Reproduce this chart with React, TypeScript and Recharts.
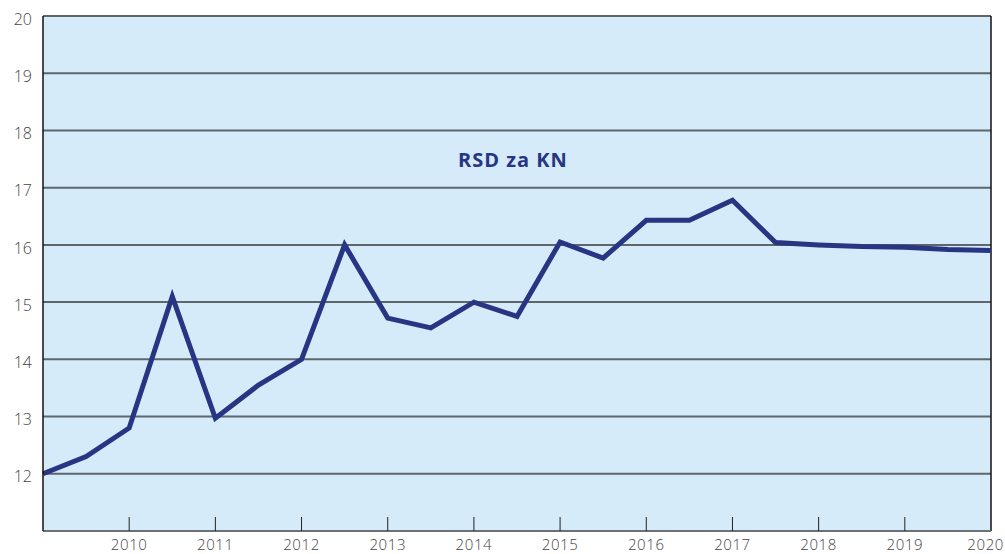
import { LineChart, Line, XAxis, YAxis, CartesianGrid, ReferenceLine } from 'recharts';

// half-year observations, RSD per 1 HRK
const periods = [
  2009, 2009.5, 2010, 2010.5, 2011, 2011.5, 2012, 2012.5, 2013, 2013.5, 2014, 2014.5,
  2015, 2015.5, 2016, 2016.5, 2017, 2017.5, 2018, 2018.5, 2019, 2019.5, 2020
];
const rsdPerKn = [
  12.0, 12.3, 12.8, 15.1, 12.97, 13.55, 14.0, 16.0, 14.72, 14.55, 15.0, 14.75,
  16.05, 15.77, 16.43, 16.43, 16.78, 16.04, 16.0, 15.97, 15.96, 15.92, 15.9
];
const yearTicks = [2010, 2011, 2012, 2013, 2014, 2015, 2016, 2017, 2018, 2019, 2020];
const valueTicks = [12, 13, 14, 15, 16, 17, 18, 19, 20];
const seriesLabel = 'RSD za KN';

const data = periods.map((p, i) => ({ period: p, value: rsdPerKn[i] }));

const FONT = '"Open Sans", Lato, sans-serif';

const YearTick = (props: any) => {
  const { x, y, payload } = props;
  const last = payload.value === yearTicks[yearTicks.length - 1];
  return (
    <g>
      {!last && <line x1={x} x2={x} y1={y} y2={y - 14} stroke="#222" strokeWidth={1} />}
      <text
        x={last ? x + 13 : x}
        y={y + 19}
        textAnchor={last ? 'end' : 'middle'}
        fill="#444"
        fontSize={15}
        letterSpacing={0.6}
        fontFamily={FONT}
        fontWeight={300}
      >
        {payload.value}
      </text>
    </g>
  );
};

export default function App() {
  return (
    <div style={{ position: 'absolute', left: 0, top: 0, width: 1005, height: 554 }}>
      <LineChart width={1005} height={554} data={data} margin={{ top: 16, right: 14, bottom: 0, left: 0 }}>
        <CartesianGrid vertical={false} fill="#d5ebfa" fillOpacity={1} stroke="#5f666b" strokeWidth={2} />
        <XAxis
          dataKey="period"
          type="number"
          domain={[2009, 2020]}
          ticks={yearTicks}
          height={23}
          tickSize={0}
          tickMargin={0}
          tick={<YearTick />}
          axisLine={{ stroke: '#6a7075', strokeWidth: 2 }}
          tickLine={false}
          interval={0}
        />
        <YAxis
          domain={[11, 20]}
          ticks={valueTicks}
          width={43}
          tickLine={false}
          tickMargin={5}
          axisLine={{ stroke: '#111', strokeWidth: 1.5 }}
          tick={{ fill: '#444', fontSize: 16, fontFamily: FONT, fontWeight: 300, dy: 3 }}
          interval={0}
        />
        <ReferenceLine x={2020} stroke="#111" strokeWidth={1.5} />
        <Line
          type="linear"
          dataKey="value"
          stroke="#283583"
          strokeWidth={5}
          strokeLinejoin="miter"
          dot={false}
          activeDot={false}
          isAnimationActive={false}
        />
      </LineChart>
      <div
        style={{
          position: 'absolute',
          left: 458,
          top: 146,
          fontFamily: FONT,
          fontWeight: 700,
          fontSize: 20,
          letterSpacing: 1,
          color: '#283583',
          whiteSpace: 'nowrap'
        }}
      >
        {seriesLabel}
      </div>
    </div>
  );
}
